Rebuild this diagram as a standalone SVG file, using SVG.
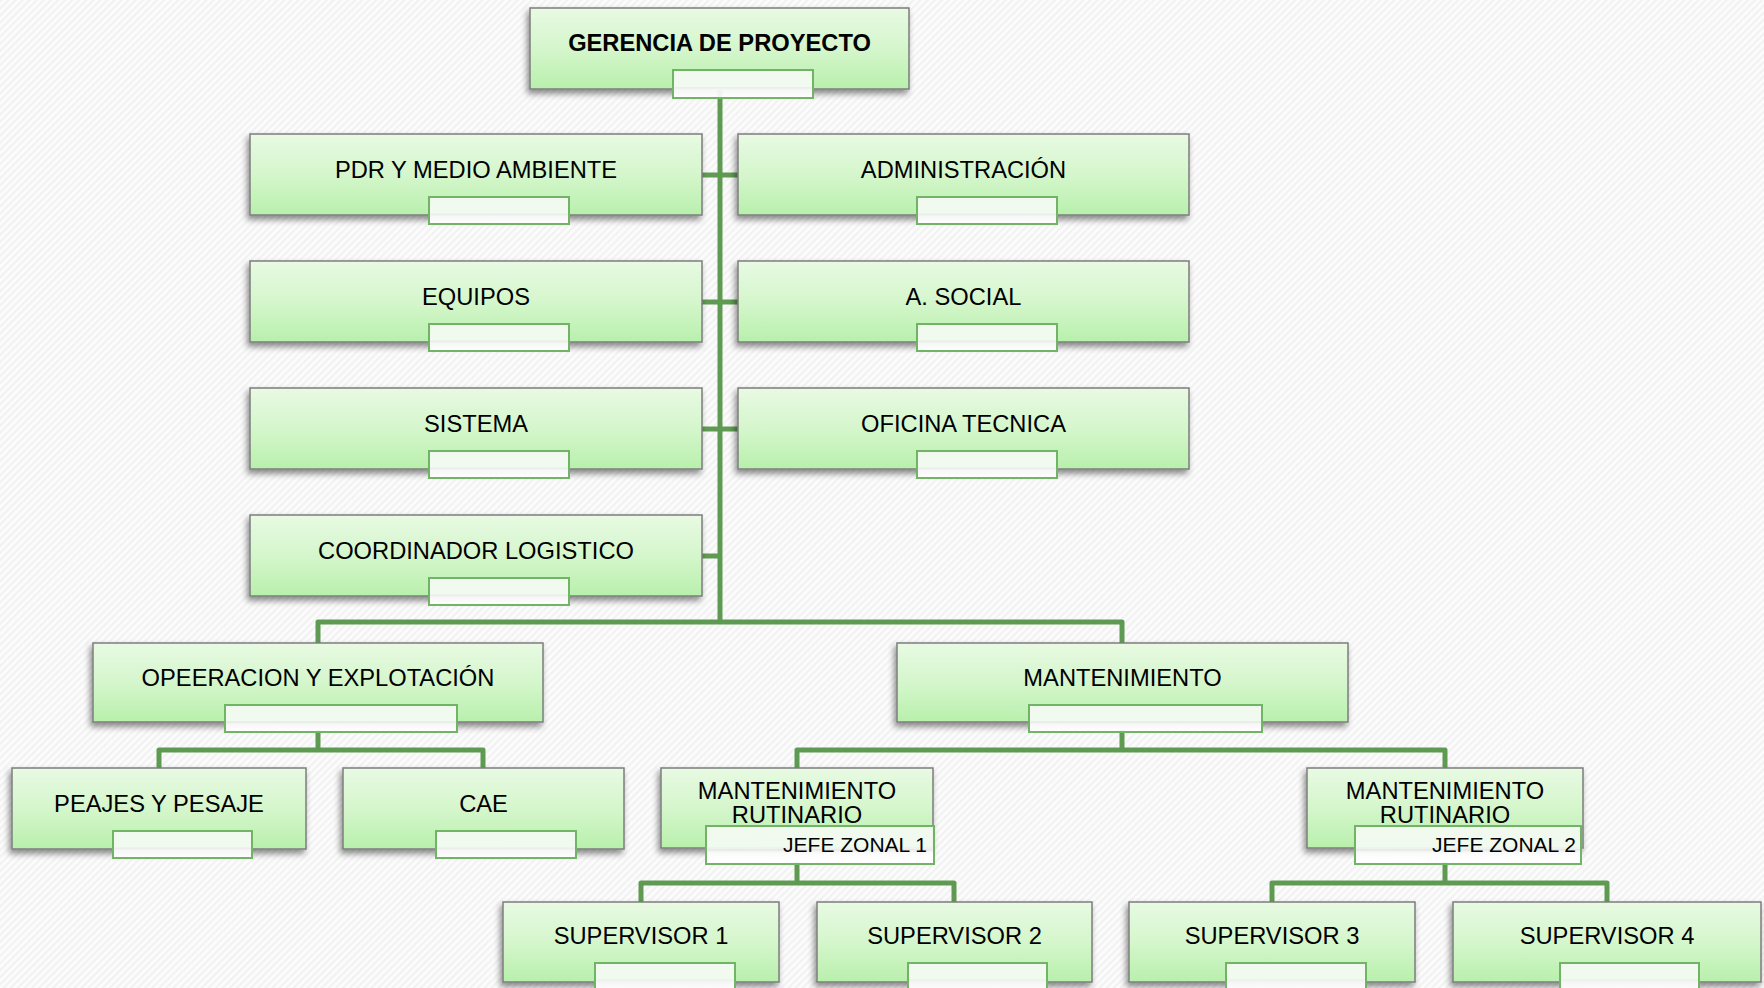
<svg xmlns="http://www.w3.org/2000/svg" width="1764" height="988" viewBox="0 0 1764 988">
<defs>
<pattern id="bg" width="5" height="5" patternUnits="userSpaceOnUse" patternTransform="rotate(45)">
<rect width="5" height="5" fill="#fcfcfc"/>
<rect width="2.2" height="5" fill="#f2f2f2"/>
</pattern>
<linearGradient id="gbox" x1="0" y1="0" x2="0" y2="1">
<stop offset="0" stop-color="#e8fae3"/>
<stop offset="0.5" stop-color="#d5f6cc"/>
<stop offset="1" stop-color="#b8f0ac"/>
</linearGradient>
<linearGradient id="gsub" x1="0" y1="0" x2="0" y2="1">
<stop offset="0" stop-color="#f4faf2"/>
<stop offset="0.6" stop-color="#f6fbf5"/>
<stop offset="0.62" stop-color="#ecefeb"/>
<stop offset="0.7" stop-color="#fdfefd"/>
<stop offset="1" stop-color="#ffffff"/>
</linearGradient>
<filter id="sh" x="-10%" y="-20%" width="120%" height="150%">
<feDropShadow dx="-2" dy="4" stdDeviation="3" flood-color="#000" flood-opacity="0.45"/>
</filter>
</defs>
<style>
.box{fill:url(#gbox);stroke:#7d7d7d;stroke-width:1.5;filter:url(#sh)}
.sub{fill:url(#gsub);fill-opacity:0.93;stroke:#72b466;stroke-width:2}
.t{font-family:"Liberation Sans",Arial,sans-serif;font-size:23.7px;fill:#000;text-anchor:middle}
.tb{font-weight:bold}
.tj{font-family:"Liberation Sans",Arial,sans-serif;font-size:21px;fill:#000;text-anchor:end}
.c{fill:none;stroke:#5f9a52;stroke-width:5;stroke-linejoin:round}
</style>
<rect width="1764" height="988" fill="url(#bg)"/>
<g id="connectors">
<path class="c" d="M720 85 V622"/>
<path class="c" d="M702 175 H738 M702 302 H738 M702 429 H738 M702 556 H720"/>
<path class="c" d="M318 645 V622 H1122 V645"/>
<path class="c" d="M318 730 V750 M159 770 V750 H483 V770"/>
<path class="c" d="M1122 730 V750 M797 770 V750 H1445 V770"/>
<path class="c" d="M797 862 V883 M641 904 V883 H954 V904"/>
<path class="c" d="M1445 862 V883 M1272 904 V883 H1607 V904"/>
</g>
<g id="gerencia"><rect class="box" x="530" y="8" width="379" height="81"/><text class="t tb" x="719.5" y="51">GERENCIA DE PROYECTO</text><rect class="sub" x="673" y="70" width="140" height="28"/></g>
<g id="pdr"><rect class="box" x="250" y="134" width="452" height="81"/><text class="t" x="476" y="178">PDR Y MEDIO AMBIENTE</text><rect class="sub" x="429" y="197" width="140" height="27"/></g>
<g id="administracion"><rect class="box" x="738" y="134" width="451" height="81"/><text class="t" x="963.5" y="178">ADMINISTRACIÓN</text><rect class="sub" x="917" y="197" width="140" height="27"/></g>
<g id="equipos"><rect class="box" x="250" y="261" width="452" height="81"/><text class="t" x="476" y="305">EQUIPOS</text><rect class="sub" x="429" y="324" width="140" height="27"/></g>
<g id="social"><rect class="box" x="738" y="261" width="451" height="81"/><text class="t" x="963.5" y="305">A. SOCIAL</text><rect class="sub" x="917" y="324" width="140" height="27"/></g>
<g id="sistema"><rect class="box" x="250" y="388" width="452" height="81"/><text class="t" x="476" y="432">SISTEMA</text><rect class="sub" x="429" y="451" width="140" height="27"/></g>
<g id="oficina"><rect class="box" x="738" y="388" width="451" height="81"/><text class="t" x="963.5" y="432">OFICINA TECNICA</text><rect class="sub" x="917" y="451" width="140" height="27"/></g>
<g id="coordinador"><rect class="box" x="250" y="515" width="452" height="81"/><text class="t" x="476" y="559">COORDINADOR LOGISTICO</text><rect class="sub" x="429" y="578" width="140" height="27"/></g>
<g id="operacion"><rect class="box" x="93" y="643" width="450" height="79"/><text class="t" x="318" y="686">OPEERACION Y EXPLOTACIÓN</text><rect class="sub" x="225" y="705" width="232" height="27"/></g>
<g id="mantenimiento"><rect class="box" x="897" y="643" width="451" height="79"/><text class="t" x="1122.5" y="686">MANTENIMIENTO</text><rect class="sub" x="1029" y="705" width="233" height="27"/></g>
<g id="peajes"><rect class="box" x="12" y="768" width="294" height="81"/><text class="t" x="159" y="812">PEAJES Y PESAJE</text><rect class="sub" x="113" y="831" width="139" height="27"/></g>
<g id="cae"><rect class="box" x="343" y="768" width="281" height="81"/><text class="t" x="483.5" y="812">CAE</text><rect class="sub" x="436" y="831" width="140" height="27"/></g>
<g id="rutinario1"><rect class="box" x="661" y="768" width="272" height="80"/><text class="t" x="797" y="799">MANTENIMIENTO</text><text class="t" x="797" y="823">RUTINARIO</text><rect class="sub" x="706" y="826" width="228" height="38" fill-opacity="1"/><text class="tj" x="927" y="852">JEFE ZONAL 1</text></g>
<g id="rutinario2"><rect class="box" x="1307" y="768" width="276" height="80"/><text class="t" x="1445" y="799">MANTENIMIENTO</text><text class="t" x="1445" y="823">RUTINARIO</text><rect class="sub" x="1355" y="826" width="226" height="38" fill-opacity="1"/><text class="tj" x="1576" y="852">JEFE ZONAL 2</text></g>
<g id="supervisor1"><rect class="box" x="503" y="902" width="276" height="80"/><text class="t" x="641" y="944">SUPERVISOR 1</text><rect class="sub" x="595" y="963" width="140" height="27"/></g>
<g id="supervisor2"><rect class="box" x="817" y="902" width="275" height="80"/><text class="t" x="954.5" y="944">SUPERVISOR 2</text><rect class="sub" x="908" y="963" width="139" height="27"/></g>
<g id="supervisor3"><rect class="box" x="1129" y="902" width="286" height="80"/><text class="t" x="1272" y="944">SUPERVISOR 3</text><rect class="sub" x="1226" y="963" width="140" height="27"/></g>
<g id="supervisor4"><rect class="box" x="1453" y="902" width="308" height="80"/><text class="t" x="1607" y="944">SUPERVISOR 4</text><rect class="sub" x="1560" y="963" width="139" height="27"/></g>
</svg>
